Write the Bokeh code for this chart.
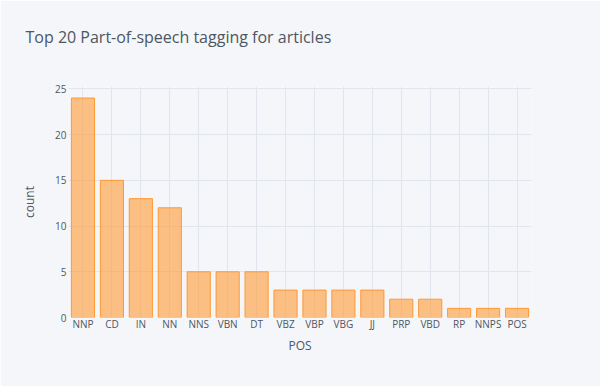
from bokeh.plotting import figure
from bokeh.models import ColumnDataSource, FactorRange, Range1d, FixedTicker, Title
from bokeh.embed import file_html
from bokeh.resources import INLINE

categories = ["NNP", "CD", "IN", "NN", "NNS", "VBN", "DT", "VBZ", "VBP", "VBG",
              "JJ", "PRP", "VBD", "RP", "NNPS", "POS"]
counts = [24, 15, 13, 12, 5, 5, 5, 3, 3, 3, 3, 2, 2, 1, 1, 1]
y_ticks = [0, 5, 10, 15, 20, 25]
title_text = "Top 20 Part-of-speech tagging for articles"

BG = "#F5F6F9"
GRID = "#E1E5ED"
TXT = "#4D5663"
FONT = "Open Sans"

src = ColumnDataSource(data=dict(pos=categories, count=counts))

p = figure(width=600, height=386, output_backend="svg", toolbar_location=None,
           x_range=FactorRange(*categories),
           y_range=Range1d(0, max(counts) * 1.0526),
           title=title_text,
           min_border_left=68, min_border_right=69,
           min_border_top=86, min_border_bottom=69)

# invisible spacer between the frame and the title
p.add_layout(Title(text=" ", text_font_size="2px", standoff=35, text_color=BG), "above")

p.vbar(x="pos", top="count", width=0.8, source=src,
       fill_color="#FF9933", fill_alpha=0.6,
       line_color="#FF9933", line_width=1)

p.background_fill_color = BG
p.border_fill_color = BG
p.outline_line_color = None

p.title.text_font = FONT
p.title.text_font_size = "16px"
p.title.text_font_style = "normal"
p.title.text_color = TXT
p.title.align = "left"
p.title.offset = -43
p.title.standoff = 0

p.yaxis.ticker = FixedTicker(ticks=y_ticks)
for ax in (p.xaxis[0], p.yaxis[0]):
    ax.axis_line_color = None
    ax.major_tick_line_color = None
    ax.minor_tick_line_color = None
    ax.major_tick_out = 0
    ax.major_tick_in = 0
    ax.minor_tick_out = 0
    ax.minor_tick_in = 0
    ax.major_label_text_font = FONT
    ax.major_label_text_font_size = "10px"
    ax.major_label_text_color = TXT
    ax.axis_label_text_font = FONT
    ax.axis_label_text_font_size = "12px"
    ax.axis_label_text_font_style = "normal"
    ax.axis_label_text_color = TXT

p.xaxis.axis_label = "POS"
p.yaxis.axis_label = "count"
p.xaxis.major_label_standoff = -1
p.yaxis.major_label_standoff = 2
p.xaxis.axis_label_standoff = 3
p.yaxis.axis_label_standoff = 14

p.xgrid.grid_line_color = GRID
p.ygrid.grid_line_color = GRID
p.xgrid.grid_line_width = 1
p.ygrid.grid_line_width = 1

open("out.html", "w").write(file_html(p, INLINE))
